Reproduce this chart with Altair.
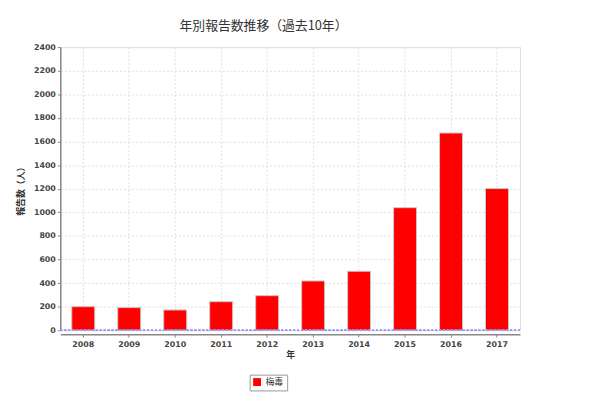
import altair as alt
import pandas as pd

years = ["2008", "2009", "2010", "2011", "2012", "2013", "2014", "2015", "2016", "2017"]
cases = [200, 192, 172, 242, 293, 418, 500, 1039, 1672, 1201]
series = ["梅毒"] * len(years)
y_ticks = list(range(0, 2401, 200))

df = pd.DataFrame({"年": years, "報告数": cases, "疾患": series})

JP = "Noto Sans CJK JP"
NUM = "DejaVu Sans"

y_axis = alt.Axis(title="報告数（人）", values=y_ticks, format="d",
                  labelOverlap=False, labelFont=NUM,
                  labelFontSize=8, labelFontWeight="bold", labelColor="#444",
                  titleFont=JP,
                  titleFontSize=9, titleFontWeight="bold", titleColor="#333",
                  domainColor="#888", domainWidth=1.5, tickColor="#888",
                  tickSize=3, labelPadding=2, titlePadding=8,
                  grid=True, gridColor="#dddddd", gridDash=[2, 2])
y_scale = alt.Scale(domain=[0, 2400], nice=False)

bars = alt.Chart(df).mark_bar(stroke="#c8c8c8", strokeWidth=1).encode(
    x=alt.X("年:N", sort=years,
            scale=alt.Scale(paddingInner=0.5, paddingOuter=0.25),
            axis=alt.Axis(title="年", labelAngle=0, labelFont=NUM, labelFontSize=8,
                          labelFontWeight="bold", labelColor="#444",
                          titleFont=JP, titleFontSize=9,
                          titleFontWeight="bold", titleColor="#333",
                          domainColor="#888", domainWidth=1.5, tickColor="#888",
                          tickSize=3, labelPadding=3, titlePadding=3, offset=4,
                          grid=True, gridColor="#dddddd", gridDash=[2, 2],
                          bandPosition=0.5)),
    y=alt.Y("報告数:Q", scale=y_scale, axis=y_axis),
    color=alt.Color("疾患:N", scale=alt.Scale(range=["#ff0000"]),
                    legend=alt.Legend(title=None, orient="none", legendX=192,
                                      legendY=332, symbolType="square",
                                      symbolSize=64, symbolStrokeWidth=0,
                                      labelFont=JP, labelFontSize=9,
                                      labelColor="#333", strokeColor="#999",
                                      padding=3, symbolOffset=0)),
)

zero = alt.Chart(df).mark_rule(color="#9999ff", strokeDash=[2, 2], strokeWidth=0.8).encode(
    y=alt.YDatum(0, scale=y_scale, axis=y_axis)
)

chart = alt.layer(bars, zero).properties(
    width=466,
    height=287,
    title=alt.TitleParams("年別報告数推移（過去10年）", font=JP, fontSize=13,
                          fontWeight="normal", color="#333", anchor="middle",
                          dx=-27, offset=10),
    autosize=alt.AutoSizeParams(type="none"),
    padding={"left": 53, "top": 37, "right": 73, "bottom": 65},
).configure_view(stroke="#bbbbbb", strokeWidth=1.5).configure(background="white")

chart.save("out.html", embed_options={"renderer": "svg", "actions": False})
